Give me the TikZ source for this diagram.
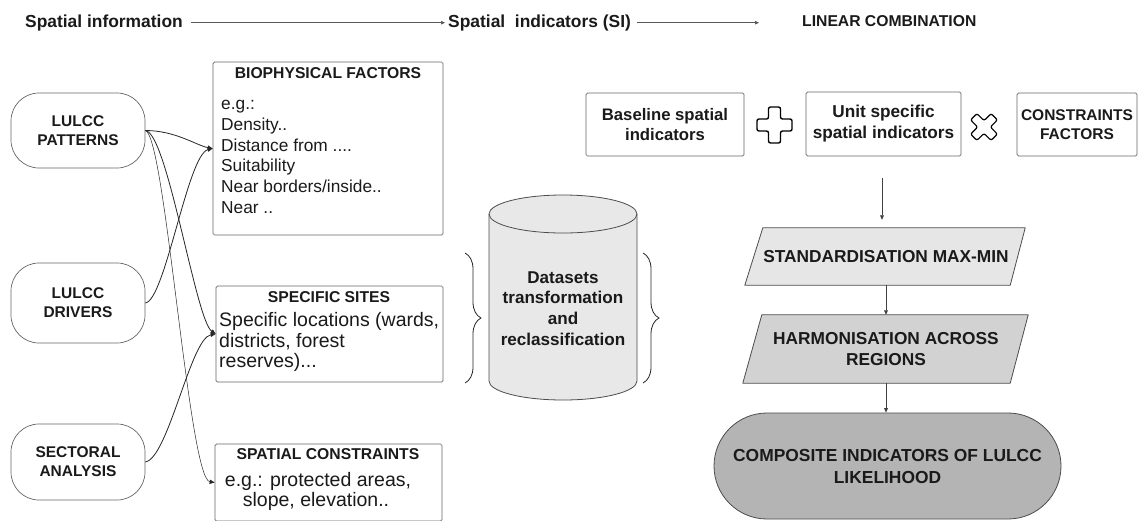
\documentclass[tikz,border=0pt]{standalone}
\usepackage{fontspec}
\setmainfont{Liberation Sans}
\usetikzlibrary{arrows.meta,shapes.misc,decorations.pathreplacing}
\pgfdeclarelayer{background}
\pgfsetlayers{background,main}
\definecolor{bordergray}{HTML}{666666}
\definecolor{txt}{HTML}{1A1A1A}
\definecolor{cylfill}{HTML}{E8E8E8}
\definecolor{stdfill}{HTML}{E6E6E6}
\definecolor{harmfill}{HTML}{D2D2D2}
\definecolor{compfill}{HTML}{B4B4B4}
\begin{document}
\begin{tikzpicture}[x=1pt,y=-1pt,
  every node/.style={text=txt, inner sep=0pt},
  hdrtext/.style={font=\fontsize{17.4}{20}\selectfont\bfseries},
  hdrarrow/.style={draw=black!65, line width=0.8pt, -{Triangle[length=4pt,width=3.5pt]}},
  lnode/.style={draw=bordergray, line width=0.7pt, rounded corners=28pt, align=center,
     minimum width=134pt, font=\fontsize{15.5}{19}\selectfont\bfseries},
  rbox/.style={draw=bordergray, line width=0.7pt, rounded corners=1.5pt},
  boxtitle/.style={anchor=base, font=\fontsize{15.7}{19}\selectfont\bfseries},
  bodysmall/.style={anchor=base west, font=\fontsize{17.3}{21}\selectfont},
  bodylarge/.style={font=\fontsize{19.5}{21}\selectfont},
  conn/.style={draw=black!85, line width=0.8pt, -{Triangle[length=5pt,width=4.2pt]}},
  thinconn/.style={draw=black!85, line width=0.5pt, -{Triangle[length=5pt,width=4.2pt]}},
  bracestyle/.style={draw=black!85, line width=0.8pt, decorate, decoration={brace, amplitude=16pt}},
  topbox/.style={rbox, align=center, font=\fontsize{16.7}{19.4}\selectfont\bfseries},
  paratext/.style={align=center, minimum width=264pt, font=\fontsize{17.3}{21}\selectfont\bfseries},
  paraline/.style={draw=black!70, line width=0.8pt, line join=round},
  varrow/.style={draw=black!75, line width=0.7pt, -{Triangle[length=4.5pt,width=3.8pt]}},
  symb/.style={draw=black, line width=1.4pt, rounded corners=2pt, fill=white}
]
\useasboundingbox (0,0) rectangle (1139,520);
\begin{pgfonlayer}{background}
\fill[white] (0,0) rectangle (1139,520);
\end{pgfonlayer}

% header
\node[hdrtext, anchor=west] (h1) at (25,22.7) {Spatial information};
\node[hdrtext, anchor=west] (h2) at (448,22.7) {Spatial\ \ indicators (SI)};
\node[anchor=west, font=\fontsize{15.7}{19}\selectfont\bfseries] (h3) at (802,20.8) {LINEAR COMBINATION};
\draw[hdrarrow, shorten <=8pt, shorten >=3pt] (h1.east) -- (h2.west);
\draw[hdrarrow, shorten <=6pt, shorten >=43pt] (h2.east) -- (h2.east -| h3.west);

% left rounded nodes
\node[lnode, minimum height=75pt] (pat) at (78,130.5) {LULCC\\PATTERNS};
\node[lnode, minimum height=80pt] (drv) at (78,303) {LULCC\\DRIVERS};
\node[lnode, minimum height=76pt] (sec) at (78,462) {SECTORAL\\ANALYSIS};

% biophysical box
\node[rbox, minimum width=230pt, minimum height=173pt] (bio) at (328,148.5) {};
\node[boxtitle] (biot) at (328,78.1) {BIOPHYSICAL FACTORS};
\node[bodysmall] (bio1) at (221,109.2) {e.g.:};
\node[bodysmall] (bio2) at (221,130.1) {Density..};
\node[bodysmall] (bio3) at (221,151.0) {Distance from ....};
\node[bodysmall] (bio4) at (221,171.9) {Suitability};
\node[bodysmall] (bio5) at (221,192.8) {Near borders/inside..};
\node[bodysmall] (bio6) at (221,213.7) {Near ..};

% specific sites
\node[rbox, minimum width=227pt, minimum height=96pt] (sit) at (329.5,334) {};
\node[boxtitle] (sitt) at (329,302.3) {SPECIFIC SITES};
\node[bodylarge, anchor=base west] (sit1) at (219,326.7) {Specific locations (wards,};
\node[bodylarge, anchor=base west] (sit2) at (219,347.2) {districts, forest};
\node[bodylarge, anchor=base west] (sit3) at (219,367.5) {reserves)...};

% spatial constraints
\node[rbox, minimum width=227pt, minimum height=77pt] (con) at (328.5,482.5) {};
\node[boxtitle] (cont) at (328,459.3) {SPATIAL CONSTRAINTS};
\node[bodylarge, anchor=base] (con1) at (318,486.7) {e.g.: protected areas,};
\node[bodylarge, anchor=base] (con2) at (316,506) {slope, elevation..};

% connectors
\draw[conn] (pat.east) .. controls +(30,0) and +(-16,-3) .. (bio.west);
\draw[conn] (pat.east) .. controls +(22,2) and +(-20,-14) .. (sit.west);
\draw[thinconn] (pat.east) .. controls +(20,5) and +(-26,-4) .. (con.west);
\draw[conn] (drv.east) .. controls +(20,-3) and +(-25,6) .. (bio.west);
\draw[conn] (sec.east) .. controls +(23,-4) and +(-25,4) .. (sit.west);

% cylinder
\fill[cylfill] (489,214) -- (489,381) arc[start angle=180, end angle=0, x radius=74, y radius=19]
  -- (637,214) arc[start angle=0, end angle=-180, x radius=74, y radius=19] -- cycle;
\draw[draw=black!70, line width=0.8pt] (489,214) -- (489,381)
  arc[start angle=180, end angle=0, x radius=74, y radius=19] -- (637,214);
\draw[draw=black!70, line width=0.8pt] (563,214) ellipse[x radius=74, y radius=19];
\node[align=center, font=\fontsize{17.1}{20.7}\selectfont\bfseries] (cyl) at (563,308.5)
  {Datasets\\transformation\\and\\reclassification};

% braces
\draw[bracestyle] (465,253) -- (465,383);
\draw[bracestyle] (643,253) -- (643,383);

% top right boxes
\node[topbox, minimum width=158pt, minimum height=63pt] (base) at (665,124.5) {Baseline spatial\\indicators};
\node[topbox, minimum width=155pt, minimum height=64pt, font=\fontsize{17.2}{21}\selectfont\bfseries] (unit) at (883.5,124) {Unit specific\\spatial indicators};
\node[topbox, minimum width=120pt, minimum height=63pt, font=\fontsize{15.5}{19}\selectfont\bfseries] (cf) at (1077,124.5) {CONSTRAINTS\\FACTORS};

% plus and times symbols
\coordinate (plus) at (774.5,125);
\draw[symb, shift={(plus)}] (-6,-18) -- (6,-18) -- (6,-6) -- (17.5,-6) -- (17.5,6) -- (6,6)
  -- (6,18) -- (-6,18) -- (-6,6) -- (-17.5,6) -- (-17.5,-6) -- (-6,-6) -- cycle;
\coordinate (times) at (984,127);
\draw[symb, line width=1.2pt, shift={(times)}, rotate=45] (-4.5,-14.5) -- (4.5,-14.5) -- (4.5,-4.5) -- (14.5,-4.5) -- (14.5,4.5) -- (4.5,4.5)
  -- (4.5,14.5) -- (-4.5,14.5) -- (-4.5,4.5) -- (-14.5,4.5) -- (-14.5,-4.5) -- (-4.5,-4.5) -- cycle;

% flow: parallelograms
\node[paratext, minimum height=57pt] (std) at (886,256.5) {STANDARDISATION MAX-MIN};
\node[paratext, minimum height=68pt] (harm) at (886,349) {HARMONISATION ACROSS\\REGIONS};
\begin{pgfonlayer}{background}
\filldraw[paraline, fill=stdfill] ([xshift=9pt]std.north west) -- ([xshift=7pt]std.north east)
  -- ([xshift=-8pt]std.south east) -- ([xshift=-9pt]std.south west) -- cycle;
\filldraw[paraline, fill=harmfill] ([xshift=8pt]harm.north west) -- ([xshift=10pt]harm.north east)
  -- ([xshift=-8pt]harm.south east) -- ([xshift=-11pt]harm.south west) -- cycle;
\end{pgfonlayer}
\node[draw=black!70, line width=0.8pt, rounded rectangle, fill=compfill, minimum width=347pt,
  minimum height=106pt, align=center, font=\fontsize{17.4}{22}\selectfont\bfseries] (comp) at (887.5,466)
  {COMPOSITE INDICATORS OF LULCC\\LIKELIHOOD};

\coordinate (u0) at (882,178);
\draw[varrow, shorten >=8pt] (u0) -- (u0 |- std.north);
\draw[varrow] (std.south) -- (std.south |- harm.north);
\draw[varrow] (harm.south) -- (harm.south |- comp.north);
\end{tikzpicture}
\end{document}
